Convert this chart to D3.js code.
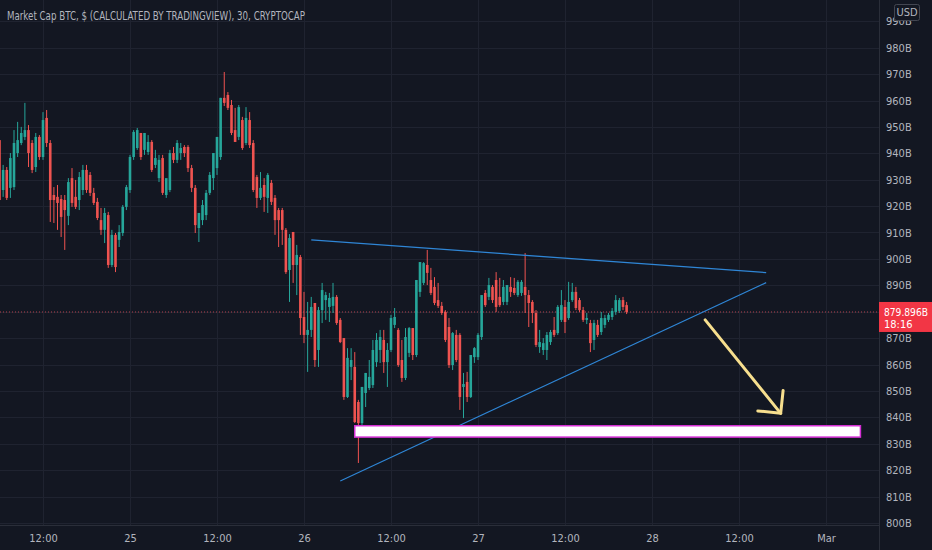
<!DOCTYPE html>
<html>
<head>
<meta charset="utf-8">
<script src="https://cdn.jsdelivr.net/npm/d3@7"></script>
<style>
body { margin: 0; background: #131722; overflow: hidden; }
text { font-family: "Liberation Sans Narrow", "DejaVu Sans Condensed", "Liberation Sans", sans-serif; }
</style>
</head>
<body>
<svg id="chart"></svg>
<script>
// 30 minute bars, Market Cap BTC (billions), 24 Feb 06:00 -> 27 Feb 20:30
var opens = [
945.0,926.1,933.7,926.9,927.2,940.1,943.9,946.2,948.8,943.9,
934.8,946.2,938.6,953.4,943.9,924.2,923.5,922.7,922.3,916.3,
930.6,923.5,922.3,926.1,933.7,931.8,925.0,921.6,914.7,911.0,
916.6,897.7,909.1,907.2,909.8,919.7,926.1,938.6,942.0,947.7,
941.3,940.5,944.3,935.6,930.6,938.2,924.2,926.1,940.1,937.5,
940.1,942.4,942.4,934.4,926.9,911.7,914.7,916.6,925.0,930.6,
934.4,938.6,961.0,962.1,958.3,948.8,946.2,952.6,943.9,952.6,
943.9,931.0,923.1,928.0,923.1,928.8,923.1,918.5,918.5,911.0,
895.8,910.2,897.7,900.7,878.0,871.2,873.1,883.3,865.5,880.6,
884.4,881.8,882.2,885.6,876.9,870.0,847.7,859.1,859.1,845.8,
837.8,849.2,851.1,852.2,860.9,865.5,869.3,860.9,865.5,875.0,
873.1,861.7,854.9,864.4,873.8,863.6,887.5,890.9,897.7,892.0,
889.4,884.4,882.2,879.9,874.2,859.8,871.2,871.2,851.5,853.4,
847.7,862.8,862.8,870.4,887.1,885.6,889.4,892.0,885.6,883.7,
883.7,889.4,889.0,886.3,887.1,889.4,886.3,883.7,879.5,866.6,
865.5,865.5,868.5,873.1,871.9,876.9,881.8,877.6,884.4,887.5,
884.4,880.6,876.9,875.7,869.3,875.0,872.3,875.0,876.9,878.0,
879.9,880.3,884.4,882.5];

var highs = [
946.9,935.6,934.8,940.1,948.8,951.9,950.0,959.1,950.7,945.0,
947.7,946.9,955.6,956.4,945.0,927.2,928.0,924.2,924.2,930.6,
934.4,929.9,932.9,935.6,935.6,932.9,926.9,923.1,919.3,919.3,
917.8,911.0,909.8,912.8,920.4,928.0,939.4,948.8,949.6,947.7,
947.7,946.9,945.0,941.3,939.4,939.4,929.9,941.3,942.4,945.0,
943.9,943.1,943.1,935.6,928.0,917.4,922.3,926.1,932.9,940.1,
946.2,961.0,970.8,963.2,960.2,957.2,958.3,953.8,957.5,955.6,
945.0,931.8,932.9,930.6,932.5,929.9,924.2,919.3,919.3,911.7,
909.4,910.2,905.3,901.5,887.5,883.7,885.6,883.3,881.8,890.9,
887.5,887.1,890.9,886.3,877.6,870.0,866.2,866.2,864.7,846.6,
851.5,856.8,861.7,869.3,871.9,873.1,873.1,868.1,878.8,881.4,
873.8,869.3,873.8,874.2,873.8,892.0,898.8,898.8,903.4,896.6,
893.1,890.9,883.7,880.6,877.6,872.3,873.1,871.9,856.8,857.2,
863.6,866.6,871.9,886.3,888.2,892.8,890.1,895.0,892.8,892.0,
890.1,893.1,892.8,892.0,892.0,902.2,888.2,884.4,880.6,873.1,
870.0,872.3,873.1,878.0,882.5,888.2,884.4,891.3,890.9,889.4,
885.2,881.8,879.5,876.9,876.9,876.9,879.9,878.8,879.5,881.4,
886.3,885.2,885.6,883.7];

var lows = [
920.4,923.5,922.3,923.1,926.1,938.6,943.1,945.0,934.8,932.5,
932.9,937.5,937.5,942.4,914.0,913.6,911.0,908.3,903.4,912.8,
919.7,918.9,918.5,924.2,925.0,923.8,920.4,914.7,909.1,906.0,
896.6,896.9,895.0,904.5,908.7,918.5,925.0,937.5,941.3,937.5,
939.4,939.4,932.9,934.4,929.1,924.2,923.1,925.3,936.3,936.3,
937.5,938.6,932.9,925.3,909.8,906.4,912.8,914.7,924.2,926.1,
931.8,937.5,957.9,956.4,946.9,944.3,945.0,941.3,943.1,942.0,
925.3,919.3,922.3,917.8,917.4,920.4,909.1,904.5,905.3,894.3,
883.7,890.9,886.3,871.2,868.1,857.2,870.4,859.1,859.1,875.7,
876.9,876.1,879.5,875.0,868.1,846.6,847.3,854.1,837.8,822.7,
836.3,843.9,850.3,851.1,859.1,860.6,856.8,851.5,864.7,873.8,
859.1,853.4,854.1,862.8,861.7,862.8,885.6,890.1,890.1,886.3,
882.5,881.4,878.8,868.5,858.7,857.9,860.9,842.8,839.7,845.8,
847.3,860.6,861.7,869.3,881.8,884.4,883.3,879.9,881.8,882.5,
882.5,885.6,886.3,885.6,886.0,879.5,874.2,875.7,866.6,864.4,
863.6,861.7,867.4,870.4,871.2,876.1,871.9,876.9,883.7,880.6,
879.9,876.1,875.3,864.7,865.5,870.4,871.2,873.8,876.1,876.9,
878.8,879.5,880.6,879.1];

var closes = [
922.3,933.7,923.1,938.2,943.9,945.0,947.7,948.8,940.1,933.7,
946.2,938.6,952.6,943.9,922.3,922.3,921.2,915.9,918.5,929.1,
921.2,919.7,931.0,933.7,926.1,925.0,921.2,915.5,911.0,917.4,
897.7,909.1,896.9,910.2,919.7,927.2,938.6,948.1,948.8,938.6,
947.7,944.3,933.7,938.2,937.5,925.0,930.6,940.1,937.5,943.9,
942.0,940.1,934.4,926.9,912.8,917.4,920.4,925.0,931.8,940.1,
946.2,961.0,959.1,957.2,947.7,944.3,957.5,942.0,953.4,943.1,
926.1,923.1,926.9,923.5,931.8,921.6,914.7,914.7,911.0,895.0,
907.9,897.7,901.5,877.6,871.2,873.1,881.8,861.7,880.6,888.2,
886.3,885.2,885.6,875.7,868.5,847.7,862.5,861.7,838.2,837.8,
851.5,856.8,855.3,865.5,869.3,870.4,860.9,865.5,877.6,878.0,
859.8,854.9,870.4,873.8,863.6,892.0,898.8,898.4,894.7,887.1,
883.3,882.2,879.5,869.3,859.8,871.9,861.7,847.7,852.6,847.7,
863.6,866.2,871.2,886.3,882.5,890.1,884.4,881.8,882.5,889.4,
890.1,887.5,887.1,891.3,891.3,886.3,883.3,879.5,867.4,868.5,
868.1,871.2,872.3,871.2,881.8,882.5,876.1,883.7,887.5,881.4,
880.6,876.9,877.6,868.1,875.7,871.2,877.6,877.6,878.8,880.3,
884.4,884.4,881.8,879.896];

var firstBar = new Date(2021, 1, 24, 6, 0);
var barMinutes = 30;

var timeTicks = [
  new Date(2021, 1, 24, 12), new Date(2021, 1, 25), new Date(2021, 1, 25, 12),
  new Date(2021, 1, 26), new Date(2021, 1, 26, 12), new Date(2021, 1, 27),
  new Date(2021, 1, 27, 12), new Date(2021, 1, 28), new Date(2021, 1, 28, 12),
  new Date(2021, 2, 1)];
var priceTicks = [800, 810, 820, 830, 840, 850, 860, 870, 880, 890,
                  900, 910, 920, 930, 940, 950, 960, 970, 980, 990];

// drawings on the chart
var upperLine = [{t: new Date(2021, 1, 26, 1, 0), p: 907.2}, {t: new Date(2021, 1, 28, 15, 45), p: 894.8}];
var lowerLine = [{t: new Date(2021, 1, 26, 5, 0), p: 815.9}, {t: new Date(2021, 1, 28, 15, 45), p: 891.0}];
var supportBox = {t0: new Date(2021, 1, 26, 7, 0), t1: new Date(2021, 2, 1, 4, 45), top: 836.8, bottom: 832.5};
var arrowLine = [{t: new Date(2021, 1, 28, 7, 20), p: 876.9}, {t: new Date(2021, 1, 28, 17, 45), p: 841.5}];

var title = "Market Cap BTC, $ (CALCULATED BY TRADINGVIEW), 30, CRYPTOCAP";
var countdown = "18:16";

var width = 932, height = 550;
var plotRight = 879, plotBottom = 525;

var bars = closes.map(function(c, i) {
    return {
        t: d3.timeMinute.offset(firstBar, i * barMinutes),
        o: opens[i], h: highs[i], l: lows[i], c: c
    };
});

var x = d3.scaleTime()
    .domain([new Date(2021, 1, 25), new Date(2021, 1, 28)])
    .range([130, 652]);

var y = d3.scaleLinear()
    .domain([800, 990])
    .range([522.9, 21.3]);

var svg = d3.select("#chart")
    .attr("width", width)
    .attr("height", height)
    .style("display", "block");

svg.append("rect")
    .attr("width", width)
    .attr("height", height)
    .attr("fill", "#131722");

svg.append("defs").append("clipPath")
    .attr("id", "plot-clip")
    .append("rect")
    .attr("width", plotRight)
    .attr("height", plotBottom);

// grid
var grid = svg.append("g").attr("clip-path", "url(#plot-clip)");
grid.selectAll("line.h")
    .data(priceTicks)
    .join("line")
    .attr("class", "h")
    .attr("x1", 0).attr("x2", plotRight)
    .attr("y1", d => Math.round(y(d)) + 0.5)
    .attr("y2", d => Math.round(y(d)) + 0.5)
    .attr("stroke", "#1f2330");
grid.selectAll("line.v")
    .data(timeTicks)
    .join("line")
    .attr("class", "v")
    .attr("x1", d => Math.round(x(d)) + 0.5)
    .attr("x2", d => Math.round(x(d)) + 0.5)
    .attr("y1", 0).attr("y2", plotBottom)
    .attr("stroke", "#1f2330");

var plot = svg.append("g").attr("clip-path", "url(#plot-clip)");

// current price line
var last = closes[closes.length - 1];
plot.append("line")
    .attr("x1", 0).attr("x2", plotRight)
    .attr("y1", y(last)).attr("y2", y(last))
    .attr("stroke", "#b2424e")
    .attr("stroke-width", 1)
    .attr("stroke-dasharray", "1,2");

// candles
var up = "#26a69a", down = "#ef5350";
var candles = plot.append("g")
    .selectAll("g")
    .data(bars)
    .join("g");

candles.append("line")
    .attr("x1", d => x(d.t))
    .attr("x2", d => x(d.t))
    .attr("y1", d => y(d.h))
    .attr("y2", d => y(d.l))
    .attr("stroke", d => d.c >= d.o ? up : down)
    .attr("stroke-width", 1);

candles.append("rect")
    .attr("x", d => x(d.t) - 1.3)
    .attr("width", 2.6)
    .attr("y", d => y(Math.max(d.o, d.c)))
    .attr("height", d => Math.max(1, Math.abs(y(d.o) - y(d.c))))
    .attr("fill", d => d.c >= d.o ? up : down);

// trend lines
var trend = d3.line().x(d => x(d.t)).y(d => y(d.p));
[upperLine, lowerLine].forEach(function(pts) {
    plot.append("path")
        .attr("d", trend(pts))
        .attr("fill", "none")
        .attr("stroke", "#2f86d6")
        .attr("stroke-width", 1.2);
});

// support rectangle
plot.append("rect")
    .attr("x", x(supportBox.t0))
    .attr("y", y(supportBox.top))
    .attr("width", x(supportBox.t1) - x(supportBox.t0))
    .attr("height", y(supportBox.bottom) - y(supportBox.top))
    .attr("fill", "#ffffff")
    .attr("stroke", "#d42fd4")
    .attr("stroke-width", 1.5);

// arrow
var arrowColor = "#f7df8e";
plot.append("path")
    .attr("d", trend(arrowLine))
    .attr("stroke", arrowColor)
    .attr("stroke-width", 3)
    .attr("stroke-linecap", "round");
var tipX = x(arrowLine[1].t), tipY = y(arrowLine[1].p);
var ang = Math.atan2(y(arrowLine[0].p) - tipY, x(arrowLine[0].t) - tipX);
var headLen = 23;
plot.append("path")
    .attr("d", "M" + (tipX + headLen * Math.cos(ang - Math.PI / 4)) + "," + (tipY + headLen * Math.sin(ang - Math.PI / 4)) +
        "L" + tipX + "," + tipY +
        "L" + (tipX + headLen * Math.cos(ang + Math.PI / 4)) + "," + (tipY + headLen * Math.sin(ang + Math.PI / 4)))
    .attr("fill", "none")
    .attr("stroke", arrowColor)
    .attr("stroke-width", 3)
    .attr("stroke-linecap", "round")
    .attr("stroke-linejoin", "round");

// axes borders
svg.append("line")
    .attr("x1", plotRight + 0.5).attr("x2", plotRight + 0.5)
    .attr("y1", 0).attr("y2", height)
    .attr("stroke", "#2a2e39");
svg.append("line")
    .attr("x1", 0).attr("x2", plotRight)
    .attr("y1", plotBottom + 0.5).attr("y2", plotBottom + 0.5)
    .attr("stroke", "#2a2e39");

// price axis (990B sits partly under the USD badge, as in TradingView)
var yAxis = svg.append("g")
    .attr("transform", "translate(" + plotRight + ",0)")
    .call(d3.axisRight(y)
        .tickValues(priceTicks.filter(p => p !== 880))
        .tickSize(0)
        .tickPadding(7)
        .tickFormat(d => d + "B"));
yAxis.select(".domain").remove();
yAxis.selectAll("text")
    .attr("fill", "#b2b5be")
    .style("font-size", "11px");

// time axis
var fmt = function(d) {
    if (d.getHours() === 12) return "12:00";
    if (d.getDate() === 1) return d3.timeFormat("%b")(d);
    return d.getDate();
};
var xAxis = svg.append("g")
    .attr("transform", "translate(0," + plotBottom + ")")
    .call(d3.axisBottom(x)
        .tickValues(timeTicks)
        .tickSize(0)
        .tickPadding(9)
        .tickFormat(fmt));
xAxis.select(".domain").remove();
xAxis.selectAll("text")
    .attr("fill", "#b2b5be")
    .style("font-size", "11px");

// last price label
var ly = y(last);
svg.append("rect")
    .attr("x", plotRight)
    .attr("y", ly - 10)
    .attr("width", width - plotRight)
    .attr("height", 30)
    .attr("fill", "#f23645");
svg.append("text")
    .attr("x", plotRight + 5)
    .attr("y", ly + 4)
    .attr("fill", "#ffffff")
    .attr("textLength", 44)
    .attr("lengthAdjust", "spacingAndGlyphs")
    .style("font-size", "11px")
    .text(d3.format(".3f")(last) + "B");
svg.append("text")
    .attr("x", plotRight + 5)
    .attr("y", ly + 16)
    .attr("fill", "#ffffff")
    .style("font-size", "11px")
    .text(countdown);

// USD badge
svg.append("rect")
    .attr("x", 894.5).attr("y", 4.5)
    .attr("width", 25).attr("height", 16)
    .attr("rx", 2)
    .attr("fill", "#131722")
    .attr("stroke", "#434651");
svg.append("text")
    .attr("x", 907).attr("y", 16)
    .attr("text-anchor", "middle")
    .attr("fill", "#b2b5be")
    .style("font-size", "11px")
    .text("USD");

// title
svg.append("text")
    .attr("x", 7)
    .attr("y", 20)
    .attr("fill", "#b2b5be")
    .attr("textLength", 298)
    .attr("lengthAdjust", "spacingAndGlyphs")
    .style("font-size", "13px")
    .text(title);
</script>
</body>
</html>
